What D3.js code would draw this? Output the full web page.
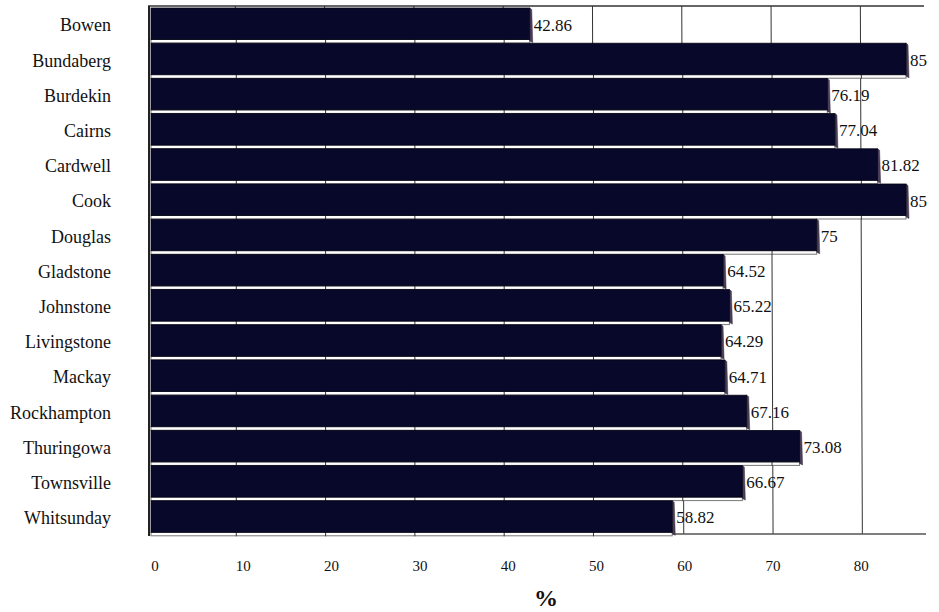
<!DOCTYPE html>
<html><head><meta charset="utf-8">
<script src="https://cdn.jsdelivr.net/npm/d3@7"></script>
<style>body{margin:0;background:#fff}svg{display:block}</style>
</head><body>
<svg id="c" width="939" height="612" font-family="'Liberation Serif','Tinos','DejaVu Serif',serif"></svg>
<script>
const categories = ["Bowen","Bundaberg","Burdekin","Cairns","Cardwell","Cook","Douglas","Gladstone","Johnstone","Livingstone","Mackay","Rockhampton","Thuringowa","Townsville","Whitsunday"];
const values = [42.86,85,76.19,77.04,81.82,85,75,64.52,65.22,64.29,64.71,67.16,73.08,66.67,58.82];
const valueLabels = ["42.86","85","76.19","77.04","81.82","85","75","64.52","65.22","64.29","64.71","67.16","73.08","66.67","58.82"];
const ticks = [0,10,20,30,40,50,60,70,80];
const axisTitle = "%";

const FONT = "'Liberation Serif','Tinos','DejaVu Serif',serif";
const svg = d3.select("#c");
const x = d3.scaleLinear().domain([0,85]).range([147,906]);
const y = d3.scaleBand().domain(categories).range([6,534]).paddingInner(0).paddingOuter(0);
const bw = y.bandwidth();
const X0 = 151;

// top wall edge
svg.append("line").attr("x1",148).attr("x2",924).attr("y1",6).attr("y2",6).attr("stroke","#666").attr("stroke-width",2);
// gridlines (slightly slanted for 3D)
svg.selectAll(".grid").data(ticks.slice(1)).join("line")
  .attr("x1",d=>x(d)-1).attr("x2",d=>x(d)+1).attr("y1",6).attr("y2",534)
  .attr("stroke","#333").attr("stroke-width",1);
// floor line
svg.append("line").attr("x1",151).attr("x2",926).attr("y1",534).attr("y2",534).attr("stroke","#555").attr("stroke-width",1.5);
// left wall edge
svg.append("line").attr("x1",149).attr("x2",149).attr("y1",6).attr("y2",536).attr("stroke","#222").attr("stroke-width",2);

// value labels
svg.selectAll(".vl").data(values).join("text")
  .attr("font-family",FONT).attr("fill","#111")
  .attr("x",d=>x(d)+4).attr("y",(d,i)=>y(categories[i])+bw/2+1).attr("dy","0.35em")
  .attr("font-size",17).text((d,i)=>valueLabels[i]);

const g = svg.selectAll(".bar").data(values).join("g");
// bottom face
g.append("rect").attr("x",X0).attr("y",(d,i)=>y(categories[i])+33.5).attr("width",d=>x(d)-X0).attr("height",3.5)
  .attr("fill","#fff").attr("stroke","#777").attr("stroke-width",1);
g.each(function(d,i){
  const yy = y(categories[i])+33.5;
  d3.select(this).selectAll("line").data(ticks.filter(t=>t>0 && x(t)<x(d)-2)).join("line")
    .attr("x1",t=>x(t)).attr("x2",t=>x(t)).attr("y1",yy-1).attr("y2",yy+4).attr("stroke","#333").attr("stroke-width",1);
});
// side face
g.append("path").attr("d",(d,i)=>{const t=y(categories[i])+2, b=t+33, xe=x(d);
  return `M${xe},${t} L${xe+2},${t+1.5} L${xe+3},${b+1.5} L${xe},${b} Z`;})
  .attr("fill","#4a3d58").attr("stroke","#3a3040").attr("stroke-width",0.5);
// front face
g.append("rect").attr("x",X0).attr("y",(d,i)=>y(categories[i])+2).attr("width",d=>x(d)-X0).attr("height",31.5)
  .attr("fill","#08082a").attr("stroke","#050515").attr("stroke-width",0.8);

// category labels
svg.selectAll(".cl").data(categories).join("text")
  .attr("font-family",FONT).attr("fill","#111")
  .attr("x",111).attr("y",d=>y(d)+bw/2+1.5).attr("dy","0.35em").attr("text-anchor","end")
  .attr("font-size",18).text(d=>d);

// x tick labels
svg.selectAll(".tl").data(ticks).join("text")
  .attr("font-family",FONT).attr("fill","#111")
  .attr("x",d=>x(d)+8-d*0.1).attr("y",566).attr("dy","0.35em").attr("text-anchor","middle")
  .attr("font-size",15).text(d=>d);

svg.append("text").attr("font-family",FONT).attr("fill","#111")
  .attr("x",546).attr("y",598).attr("dy","0.35em").attr("text-anchor","middle")
  .attr("font-size",24).attr("font-weight","bold").text(axisTitle);
</script>
</body></html>
